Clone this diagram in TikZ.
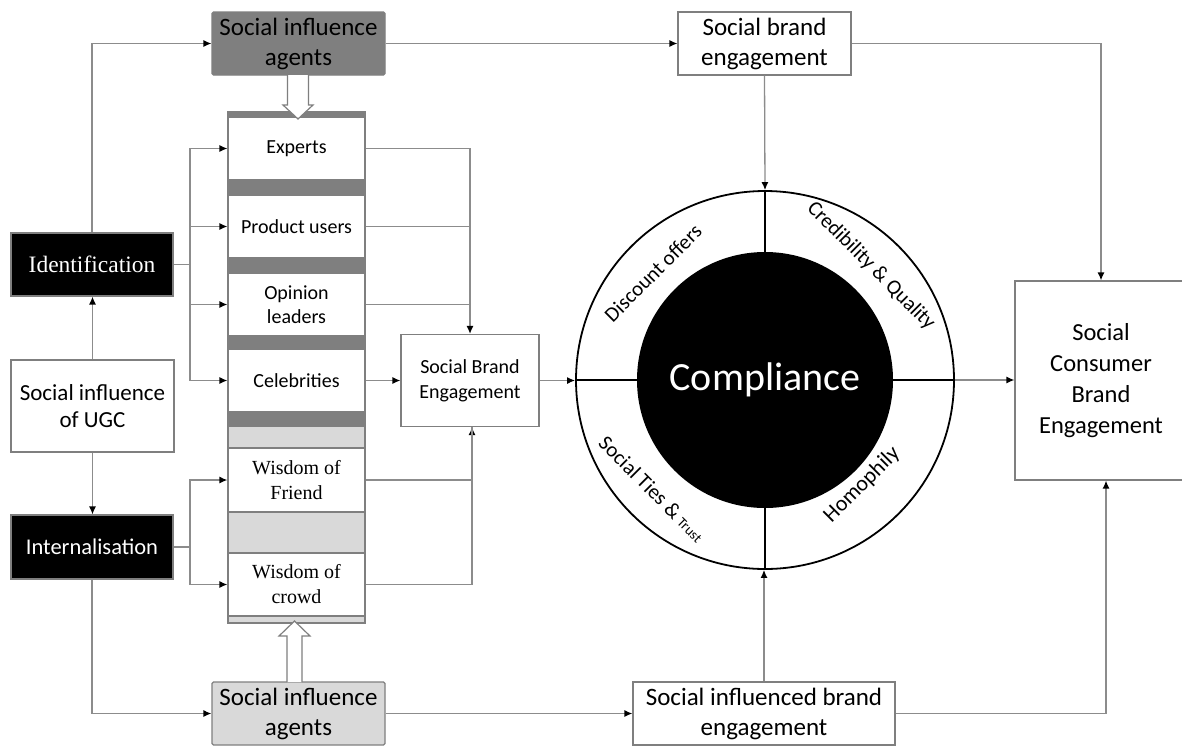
\documentclass[tikz,border=0pt]{standalone}
\usepackage{fontspec}
\setmainfont{Carlito}
\newfontfamily\tnrfont{Liberation Serif}
\usetikzlibrary{arrows.meta}
\definecolor{bgray}{HTML}{7F7F7F}
\definecolor{cgray}{HTML}{8C8C8C}
\definecolor{dgray}{HTML}{7F7F7F}
\definecolor{lgray}{HTML}{D9D9D9}
\begin{document}
\begin{tikzpicture}[x=1pt,y=-1pt,
  box/.style={draw=bgray, line width=1.2pt, fill=white, inner sep=0pt, align=center, text=black},
  conn/.style={draw=cgray, line width=1.3pt},
  arr/.style={conn, -{Latex[length=8pt,width=7pt,color=black]}},
  fbig/.style={font=\fontsize{25}{30}\selectfont},
  fmed/.style={font=\fontsize{20}{24}\selectfont},
  fser/.style={font=\tnrfont\fontsize{20}{25}\selectfont},
  ringtext/.style={font=\fontsize{21}{24}\selectfont, text=black, inner sep=0pt},
  colbox/.style={box, minimum width=137pt, minimum height=63pt}
]
\useasboundingbox (0,0) rectangle (1182,745);
\fill[white] (0,0) rectangle (1182,745);
\clip (0,0) rectangle (1182,745);

% column background strips
\fill[dgray] (228,112) rectangle (365,427);
\fill[lgray] (228,427) rectangle (365,623);
\draw[bgray, line width=1.2pt] (228,112) rectangle (365,623);

% column items
\node[colbox, fmed] (experts) at (296.5,148.5) {Experts};
\node[colbox, fmed] (prod) at (296.5,226.5) {Product users};
\node[colbox, fmed] (opin) at (296.5,304.5) {Opinion\\leaders};
\node[colbox, fmed] (celeb) at (296.5,380.5) {Celebrities};
\node[colbox, fser, minimum height=64pt] (wfriend) at (296.5,480) {Wisdom of\\Friend};
\node[colbox, fser] (wcrowd) at (296.5,584.5) {Wisdom of\\crowd};

% left boxes
\node[box, fill=black, text=white, font=\tnrfont\fontsize{23.5}{27}\selectfont, minimum width=162pt, minimum height=63pt] (ident) at (92,264.5) {Identification};
\node[box, font=\fontsize{23}{27}\selectfont, minimum width=163pt, minimum height=92pt] (ugc) at (92.5,406) {Social influence\\of UGC};
\node[box, fill=black, text=white, font=\fontsize{22.5}{27}\selectfont, minimum width=162pt, minimum height=64pt] (intern) at (92,547) {Internalisation};

% top / bottom agents
\node[box, fbig, fill=dgray, rounded corners=1.5pt, minimum width=173pt, minimum height=63pt] (siaT) at (298.5,43.5) {Social influence\\agents};
\node[box, fbig, fill=lgray, rounded corners=1.5pt, minimum width=173pt, minimum height=63pt] (siaB) at (298.5,713.5) {Social influence\\agents};

% other boxes
\node[box, fbig, minimum width=173pt, minimum height=63pt] (sbeT) at (764.5,43.5) {Social brand\\engagement};
\node[box, fbig, minimum width=262pt, minimum height=63pt] (sibe) at (764,713.5) {Social influenced brand\\engagement};
\node[box, font=\fontsize{24.5}{31}\selectfont, minimum width=172pt, minimum height=199pt] (scbe) at (1101,380.5) {Social\\Consumer\\Brand\\Engagement};
\node[box, font=\fontsize{20}{25}\selectfont, minimum width=138pt, minimum height=92pt] (sbeng) at (470,380.5) {Social Brand\\Engagement};

% hollow arrows
\draw[bgray, line width=1.2pt, fill=white] (287.5,75) -- (287.5,105) -- (283,105) -- (298,119) -- (313,105) -- (308.5,105) -- (308.5,75);
\draw[bgray, line width=1.2pt, fill=white] (287,682) -- (287,636) -- (279,636) -- (294.5,621) -- (310,636) -- (302,636) -- (302,682);

% ring
\node[circle, draw=black, line width=1.8pt, minimum size=378pt, inner sep=0pt] (ring) at (765,380) {};
\node[circle, fill=black, minimum size=256pt, inner sep=0pt, text=white, font=\fontsize{40}{48}\selectfont] (core) at (765,380) {Compliance};
\draw[black, line width=1.8pt] (ring.north) -- (core.north) (core.south) -- (ring.south)
  (ring.west) -- (core.west) (core.east) -- (ring.east);
\node[ringtext, rotate=45] (disc) at (653,273) {Discount offers};
\node[ringtext, rotate=-45] (cred) at (871,266) {Credibility \& Quality};
\node[ringtext, rotate=-45] (ties) at (652,489) {Social Ties \& {\fontsize{14}{16}\selectfont Trust}};
\node[ringtext, rotate=45, font=\fontsize{22}{24}\selectfont] (homo) at (862,485) {Homophily};

% connectors
\coordinate (busI) at (190,264.5);
\coordinate (busW) at (190,547);
\draw[conn] (ident.east) -- (busI);
\draw[arr] (busI) |- (experts.west);
\draw[arr] (busI) |- (prod.west);
\draw[arr] (busI) |- (opin.west);
\draw[arr] (busI) |- (celeb.west);
\draw[conn] (intern.east) -- (busW);
\draw[arr] (busW) |- (wfriend.west);
\draw[arr] (busW) |- (wcrowd.west);

\draw[arr] (ident.north) |- (siaT.west);
\draw[arr] (siaT.east) -- (sbeT.west);
\draw[arr] (sbeT.east) -| (scbe.north);
\draw[arr] (sbeT.south) -- (ring.north);
\draw[arr] (ugc.north) -- (ugc.north |- ident.south);
\draw[arr] (ugc.south) -- (ugc.south |- intern.north);

\draw[arr] (experts.east) -| (sbeng.north);
\draw[conn] (prod.east) -- (prod.east -| sbeng.north);
\draw[conn] (opin.east) -- (opin.east -| sbeng.north);
\draw[arr] (celeb.east) -- (sbeng.west);
\draw[arr] (wfriend.east) -| ([xshift=2pt]sbeng.south);
\draw[conn] (wcrowd.east) -| ([xshift=2pt]sbeng.south);
\draw[arr] (sbeng.east) -- (sbeng.east -| ring.west);
\draw[arr] (ring.east) -- (ring.east -| scbe.west);

\draw[arr] (intern.south) |- (siaB.west);
\draw[arr] (siaB.east) -- (sibe.west);
\draw[arr] (sibe.north) -- (sibe.north |- ring.south);
\draw[arr] (sibe.east) -| ([xshift=5pt]scbe.south);
\end{tikzpicture}
\end{document}
